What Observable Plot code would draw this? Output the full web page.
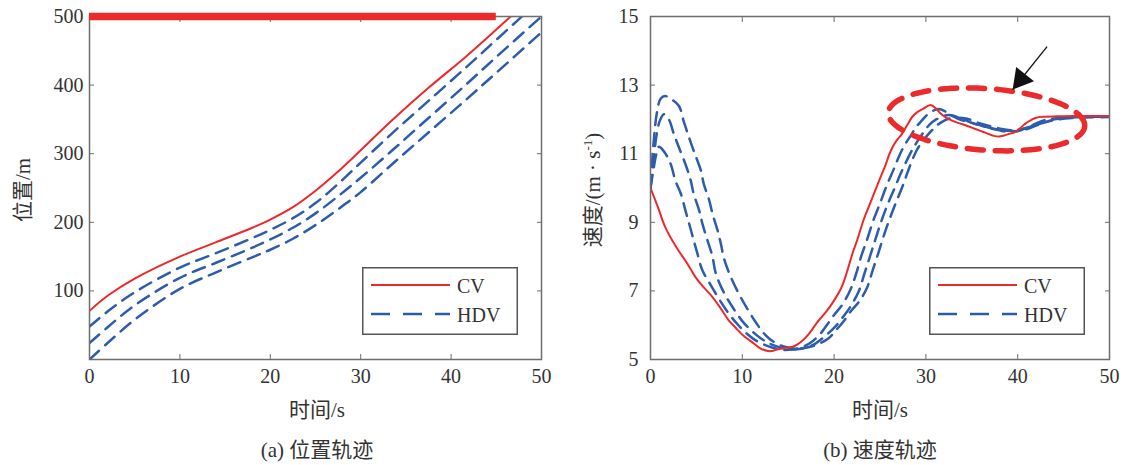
<!DOCTYPE html>
<html><head><meta charset="utf-8">
<script src="https://cdn.jsdelivr.net/npm/d3@7"></script>
<script src="https://cdn.jsdelivr.net/npm/@observablehq/plot@0.6"></script>
<style>
body{margin:0;background:#fff;}
#wrap{position:relative;width:1123px;height:465px;font-family:"Liberation Serif","Noto Sans CJK SC",serif;color:#333;overflow:hidden;}
.abs{position:absolute;}
.ctr{position:absolute;transform:translate(-50%,-50%);white-space:nowrap;}
.rot{position:absolute;transform:translate(-50%,-50%) rotate(-90deg);white-space:nowrap;}
</style></head><body><div id="wrap"></div>
<script>
// ---------- Data ----------
const xTicks = [0, 10, 20, 30, 40, 50];
const posTicks = [100, 200, 300, 400, 500];
const spdTicks = [5, 7, 9, 11, 13, 15];

// (a) position trajectories
const posT = [0, 2, 5, 10, 14, 18, 20, 22.5, 25, 27.5, 30, 33.5, 37.5, 41.5, 45, 50];
const posCV   = [71, 93, 118, 150, 171, 192, 204, 222, 246, 274, 305, 349, 396, 440, 481, 541];
const posHDV1 = [48, 70, 98, 134, 155, 177, 189, 206, 228, 256, 287, 330, 377, 424, 466, 526];
const posHDV2 = [24, 47, 79, 119, 141, 163, 175, 192, 213, 238, 265, 305, 352, 399, 441, 500];
const posHDV3 = [0, 24, 58, 103, 127, 149, 160, 176, 196, 219, 244, 285, 331, 377, 418, 477];
const barLevel = 500, barStart = 0, barEnd = 45;

// (b) speed trajectories
const cvT = [0,0.8,1.6,2.8,4.0,4.9,5.8,6.6,7.5,8.5,9.3,10.1,11,12,13,13.9,14.7,15.5,16.6,17.4,18.2,19.1,19.9,20.8,21.4,22,22.6,23.2,24,24.7,25.5,26.2,26.8,27.4,28,28.5,29.1,29.7,30.5,31.1,31.6,32.2,32.8,33.5,34.3,35,35.8,36.6,37.4,38,38.5,39.1,39.7,40.3,40.8,41.4,42,43,44.3,46,48,50];
const cvV = [10,9.45,8.86,8.28,7.8,7.4,7.1,6.87,6.55,6.15,5.92,5.7,5.52,5.32,5.24,5.3,5.34,5.37,5.56,5.8,6.1,6.38,6.68,7.1,7.55,8.09,8.55,9.06,9.6,10.08,10.6,11.1,11.38,11.58,11.85,12.07,12.22,12.31,12.42,12.32,12.17,12.05,11.97,11.9,11.83,11.76,11.68,11.6,11.52,11.5,11.53,11.58,11.63,11.75,11.87,11.97,12.05,12.08,12.09,12.1,12.1,12.1];

const h1T = [0,0.3,0.6,0.9,1.4,2.2,2.7,3.3,3.8,4.2,4.7,5.1,5.65,6.5,7.5,8.5,9.5,10.5,11.5,12.5,13.5,14.5,15.5,16.5,17.5,18.5,19.2,20,20.9,21.8,22.4,23,23.6,24.2,25,25.7,26.5,27.2,27.8,28.4,29,29.5,30,30.5,31,31.4,32,32.7,33.5,34.3,35,36,37,38,39,40,41,42,43,44,46,48,50];
const h1V = [10,10.5,10.95,11.2,11.09,10.7,10.22,9.84,9.35,8.97,8.48,8.1,7.6,7.2,6.75,6.35,6.02,5.75,5.55,5.42,5.33,5.28,5.3,5.36,5.5,5.75,6.0,6.3,6.6,7.05,7.5,8.05,8.5,9.0,9.55,10.05,10.55,11.0,11.3,11.55,11.8,11.95,12.1,12.2,12.28,12.3,12.25,12.12,12.02,11.95,11.9,11.82,11.74,11.68,11.64,11.66,11.76,11.88,11.98,12.03,12.07,12.08,12.08];

const h2T = [0,0.4,0.7,1.0,1.46,2.0,2.55,3.1,3.8,4.4,4.7,5.3,5.65,6.2,6.75,7.1,8,9,10,11,12,13,14,15,16,17,18,19,20.1,21,21.8,22.7,23.3,23.9,24.5,25.1,25.8,26.6,27.3,28.1,28.7,29.3,29.8,30.4,31,31.6,32.2,32.8,33.5,34.3,35,36,37,38,39,40,41,42,43,44,45,47,50];
const h2V = [10,11.0,11.6,11.95,12.15,12.0,11.57,11.18,10.7,10.2,9.83,9.35,8.96,8.48,8.0,7.52,6.95,6.5,6.12,5.84,5.62,5.46,5.36,5.3,5.3,5.35,5.47,5.68,5.95,6.25,6.55,7.0,7.5,8.0,8.5,9.0,9.5,10.0,10.45,10.9,11.2,11.45,11.65,11.85,11.98,12.05,12.12,12.12,12.06,11.98,11.9,11.82,11.75,11.7,11.67,11.66,11.72,11.82,11.92,12.0,12.04,12.07,12.08];

const h3T = [0,0.3,0.7,1.1,1.6,2.2,3.1,3.6,4.2,4.7,5.5,5.8,6.4,6.75,7.3,7.66,8.0,8.6,9.5,10.5,11.5,12.5,13.5,14.5,15.5,16.5,17.5,18.3,19.4,20.2,21,21.8,22.7,23.6,24.2,24.8,25.4,26,26.7,27.5,28.2,29,29.6,30.2,30.8,31.3,31.9,32.5,33.5,34.5,35.5,36.5,37.5,38.5,39.5,40.5,41.5,42.5,43.5,44.5,46,48,50];
const h3V = [10,11.2,12.2,12.6,12.68,12.6,12.39,11.96,11.47,11.09,10.5,10.12,9.64,9.25,8.77,8.38,7.95,7.5,6.98,6.5,6.07,5.72,5.5,5.38,5.33,5.33,5.38,5.45,5.62,5.85,6.1,6.4,6.68,7.1,7.6,8.09,8.6,9.06,9.55,10.08,10.6,11.1,11.35,11.55,11.72,11.85,11.95,12.02,12.05,12.02,11.92,11.84,11.77,11.71,11.68,11.72,11.8,11.88,11.95,12.0,12.04,12.06,12.07];

// annotations (b)
const ellCenter = [36.6, 12.0];
const ellRadii = [10.7, 0.9];
const ellShear = 0.18;
const arrowTail = [43.2, 14.12];
const arrowTip = [39.45, 12.87];

// ---------- Styles ----------
const RED = "#ec2a2c", BLUE = "#2d5cab", FRAME = "#6e6e6e";
const FONT = '"Liberation Serif","Noto Sans CJK SC",serif';

function rows(ts, vs, id) { return ts.map((t, i) => ({t, v: vs[i], id})); }

const posHDV = [
  ...rows(posT, posHDV1, "h1"), ...rows(posT, posHDV2, "h2"), ...rows(posT, posHDV3, "h3")
];
const posCVrows = rows(posT, posCV, "cv");

const spdHDV = [...rows(h1T, h1V, "h1"), ...rows(h2T, h2V, "h2"), ...rows(h3T, h3V, "h3")];
const spdCV = rows(cvT, cvV, "cv");

const ell = d3.range(0, 361, 3).map(a => {
  const r = a * Math.PI / 180;
  return {t: ellCenter[0] + ellRadii[0] * Math.cos(r), v: ellCenter[1] + ellRadii[1] * Math.sin(r) - ellShear * Math.cos(r)};
});

function frameAxes(yTicks, leftPad) {
  return [
    Plot.frame({stroke: FRAME, strokeWidth: 1.5}),
    Plot.axisX({ticks: xTicks, anchor: "bottom", tickSize: 0, tickPadding: 9, label: null, stroke: "none"}),
    Plot.axisX({ticks: xTicks, anchor: "bottom", tickSize: 5, dy: -5, tickFormat: () => "", label: null, stroke: FRAME}),
    Plot.axisX({ticks: xTicks, anchor: "top", tickSize: 5, dy: 5, tickFormat: () => "", label: null, stroke: FRAME}),
    Plot.axisY({ticks: yTicks, anchor: "left", tickSize: 0, tickPadding: leftPad, label: null, stroke: "none"}),
    Plot.axisY({ticks: yTicks, anchor: "left", tickSize: 5, dx: 5, tickFormat: () => "", label: null, stroke: FRAME}),
    Plot.axisY({ticks: yTicks, anchor: "right", tickSize: 5, dx: -5, tickFormat: () => "", label: null, stroke: FRAME})
  ];
}

const common = {
  height: 400, marginTop: 16, marginBottom: 41,
  style: {fontFamily: FONT, fontSize: "20px", color: "#333", background: "transparent", overflow: "visible"}
};

const left = Plot.plot({
  ...common, width: 560, marginLeft: 89, marginRight: 19,
  x: {domain: [0, 50], axis: null},
  y: {domain: [0, 500], axis: null},
  marks: [
    Plot.line(posHDV, {x: "t", y: "v", z: "id", curve: "catmull-rom", stroke: BLUE, strokeWidth: 2.5, strokeDasharray: "13,8", clip: true}),
    Plot.line(posCVrows, {x: "t", y: "v", curve: "catmull-rom", stroke: RED, strokeWidth: 2, clip: true}),
    ...frameAxes(posTicks, 6),
    Plot.ruleY([barLevel], {x1: barStart, x2: barEnd, stroke: RED, strokeWidth: 7.5})
  ]
});

const right = Plot.plot({
  ...common, width: 563, marginLeft: 90, marginRight: 14,
  x: {domain: [0, 50], axis: null},
  y: {domain: [5, 15], axis: null},
  marks: [
    Plot.line(spdHDV, {x: "t", y: "v", z: "id", curve: "catmull-rom", stroke: BLUE, strokeWidth: 2.5, strokeDasharray: "13,8", clip: true}),
    Plot.line(spdCV, {x: "t", y: "v", curve: "catmull-rom", stroke: RED, strokeWidth: 2, clip: true}),
    Plot.line(ell, {x: "t", y: "v", stroke: RED, strokeWidth: 5.5, strokeDasharray: "16,12"}),
    Plot.link([0], {x1: () => arrowTail[0], y1: () => arrowTail[1], x2: () => arrowTip[0], y2: () => arrowTip[1], stroke: "#111", strokeWidth: 1.3}),
    Plot.dot([0], {x: () => arrowTip[0], y: () => arrowTip[1], symbol: "triangle", r: 8.5, fill: "#111", stroke: "none", rotate: 218.8, dx: 8.3, dy: -10.3}),
    ...frameAxes(spdTicks, 12)
  ]
});

const wrap = document.getElementById("wrap");
left.style.position = "absolute"; left.style.left = "0px"; left.style.top = "0px";
right.style.position = "absolute"; right.style.left = "560px"; right.style.top = "0px";
wrap.appendChild(left);
wrap.appendChild(right);

function legend(x, y) {
  const d = document.createElement("div");
  d.className = "abs";
  d.style.left = x + "px"; d.style.top = y + "px";
  d.innerHTML = `<svg width="156" height="68" style="display:block;font-family:${FONT.replace(/"/g, "'")};">
    <rect x="0.75" y="0.75" width="154.5" height="66.5" fill="#fff" stroke="#555" stroke-width="1.5"/>
    <line x1="9" x2="88" y1="18" y2="18" stroke="${RED}" stroke-width="2.2"/>
    <line x1="9" x2="88" y1="47" y2="47" stroke="${BLUE}" stroke-width="2.6" stroke-dasharray="19,13"/>
    <text x="95" y="25.5" font-size="20" fill="#333">CV</text>
    <text x="95" y="55" font-size="20" fill="#333">HDV</text>
  </svg>`;
  wrap.appendChild(d);
}
legend(361.5, 266.5);
legend(928.5, 266.5);

function label(html, cls, x, y, size) {
  const d = document.createElement("div");
  d.className = cls; d.style.left = x + "px"; d.style.top = y + "px";
  d.style.fontSize = size + "px";
  d.innerHTML = html;
  wrap.appendChild(d);
}
label("时间/s", "ctr", 317, 408, 21);
label("时间/s", "ctr", 880, 408, 21);
label("(a) 位置轨迹", "ctr", 317, 448, 21);
label("(b) 速度轨迹", "ctr", 880, 448, 21);
label("位置/m", "rot", 21, 190, 21);
label("速度/(m · s<sup style='font-size:13px'>-1</sup>)", "rot", 591, 190, 21);
</script>
</body></html>
